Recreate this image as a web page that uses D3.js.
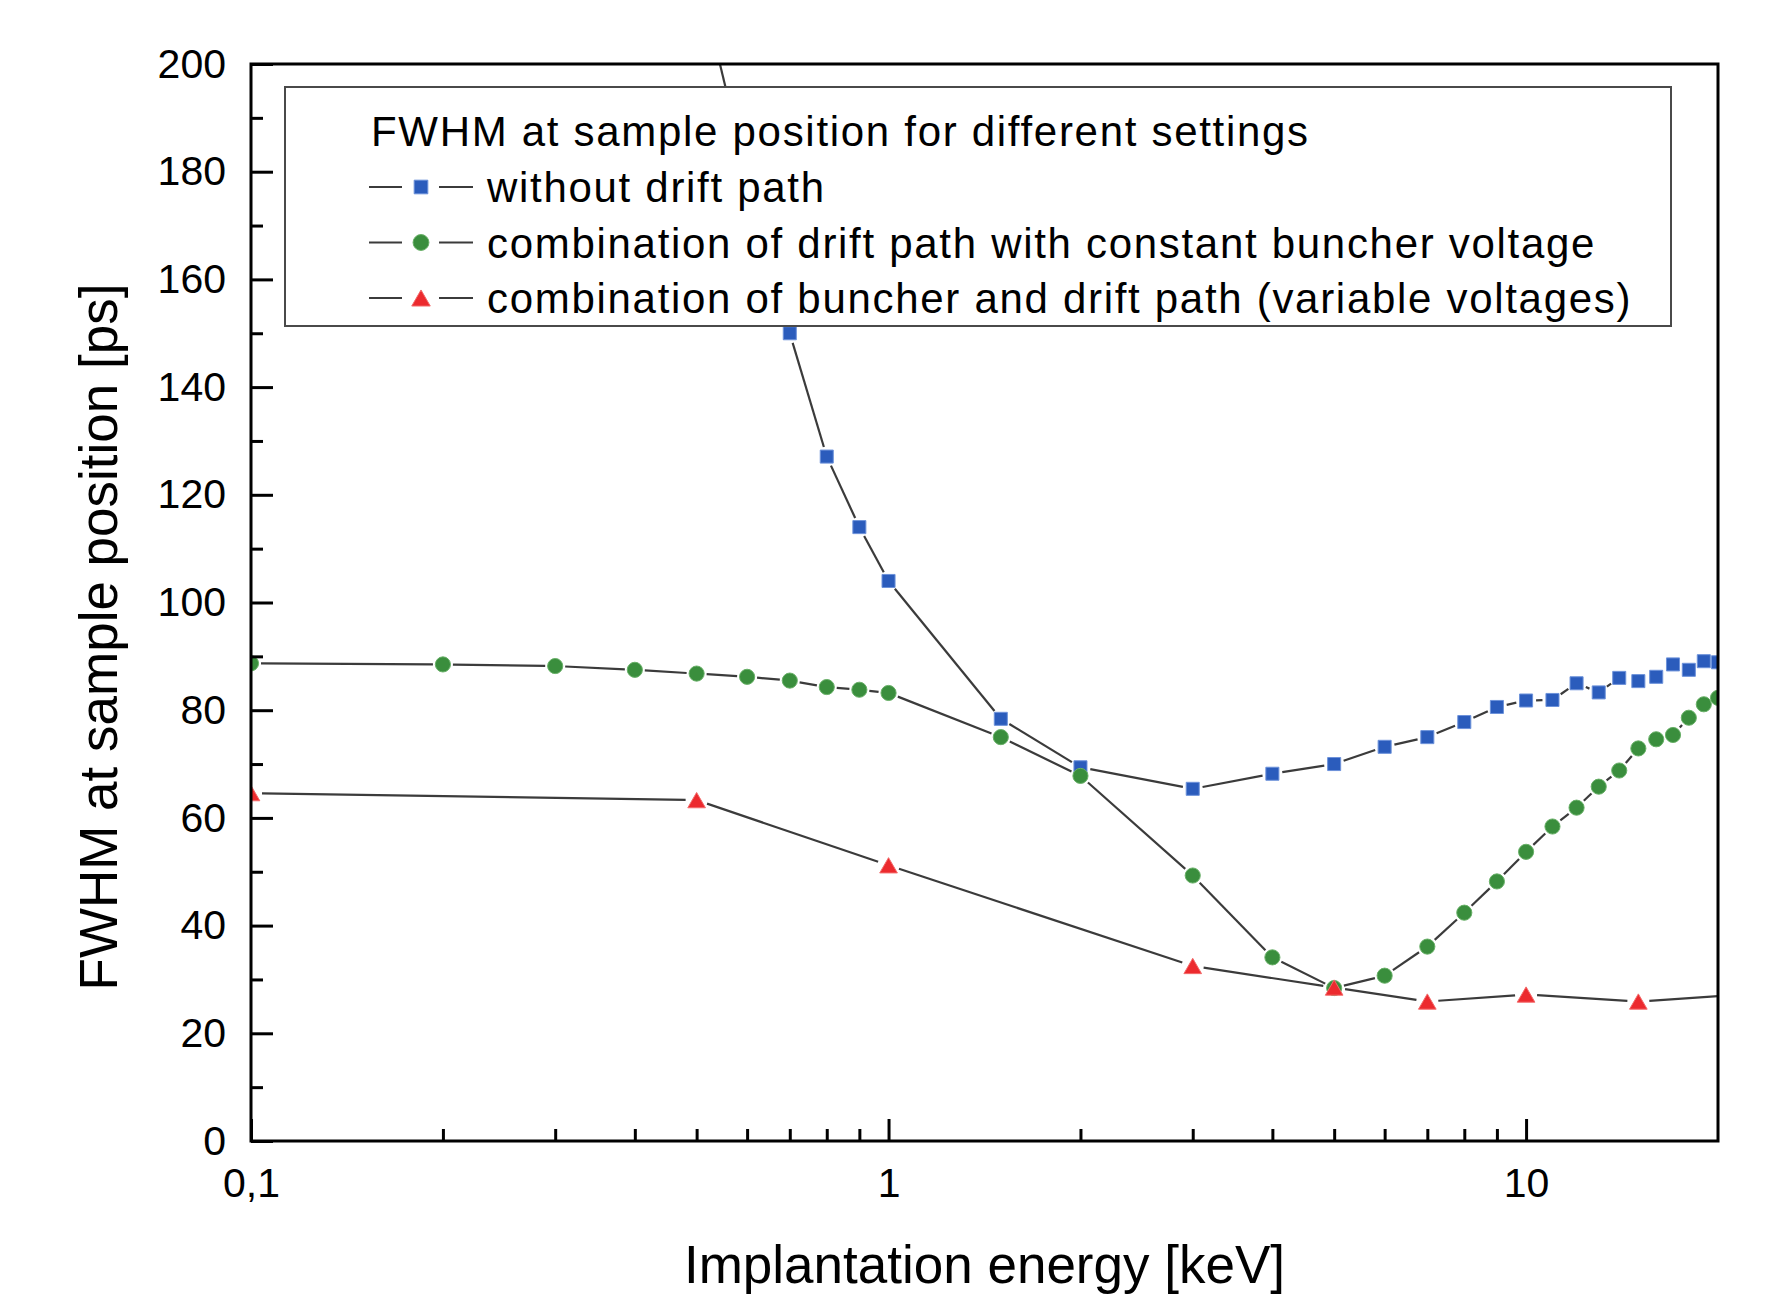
<!DOCTYPE html>
<html>
<head>
<meta charset="utf-8">
<script src="https://cdn.jsdelivr.net/npm/d3@7"></script>
<style>
  body { margin: 0; background: #fff; }
  svg { display: block; font-family: "Liberation Sans", Arial, Helvetica, sans-serif; }
</style>
</head>
<body>
<svg id="chart" width="1769" height="1297"></svg>
<script>
// implantation energy [keV] and FWHM [ps]
const energyNoDrift = [0.5, 0.6, 0.7, 0.8, 0.9, 1, 1.5, 2, 3, 4, 5, 6, 7, 8, 9, 10, 11, 12, 13, 14, 15, 16, 17, 18, 19, 20];
const fwhmNoDrift = [218, 179, 150.0, 127.1, 114.0, 104.0, 78.4, 69.4, 65.4, 68.2, 70.0, 73.2, 75.0, 77.8, 80.6, 81.8, 81.9, 85.0, 83.3, 86.0, 85.4, 86.2, 88.5, 87.5, 89.1, 88.9];

const energyConst = [0.1, 0.2, 0.3, 0.4, 0.5, 0.6, 0.7, 0.8, 0.9, 1, 1.5, 2, 3, 4, 5, 6, 7, 8, 9, 10, 11, 12, 13, 14, 15, 16, 17, 18, 19, 20];
const fwhmConst = [88.7, 88.5, 88.2, 87.5, 86.8, 86.2, 85.5, 84.3, 83.8, 83.2, 75.0, 67.8, 49.3, 34.1, 28.4, 30.7, 36.1, 42.4, 48.2, 53.7, 58.4, 61.9, 65.8, 68.8, 72.9, 74.6, 75.4, 78.6, 81.1, 82.3];

const energyVariable = [0.1, 0.5, 1, 3, 5, 7, 10, 15, 30];
const fwhmVariable = [64.6, 63.3, 51.2, 32.5, 28.5, 25.9, 27.2, 25.9, 28.3];

const seriesNames = [
  "without drift path",
  "combination of drift path with constant buncher voltage",
  "combination of buncher and drift path (variable voltages)"
];
const legendTitle = "FWHM at sample position for different settings";

const xMajorTicks = [0.1, 1, 10];
const xTickLabels = ["0,1", "1", "10"];
const xMinorTicks = [0.2, 0.3, 0.4, 0.5, 0.6, 0.7, 0.8, 0.9, 2, 3, 4, 5, 6, 7, 8, 9];
const yMajorTicks = [0, 20, 40, 60, 80, 100, 120, 140, 160, 180, 200];
const yMinorTicks = [10, 30, 50, 70, 90, 110, 130, 150, 170, 190];

const xTitle = "Implantation energy [keV]";
const yTitle = "FWHM at sample position [ps]";

// ---- layout ----
const plot = { left: 251, right: 1718, top: 64, bottom: 1141 };

const svg = d3.select("#chart");

const x = d3.scaleLog().domain([0.1, 20]).range([plot.left, plot.right]);
const y = d3.scaleLinear().domain([0, 200]).range([plot.bottom, plot.top]);

// triangle whose bounding box is centred on the point
const triangleUp = {
  draw(ctx, size) {
    const w = Math.sqrt(size * 4 / Math.sqrt(3));
    const h = w * Math.sqrt(3) / 2;
    ctx.moveTo(0, -h / 2);
    ctx.lineTo(w / 2, h / 2);
    ctx.lineTo(-w / 2, h / 2);
    ctx.closePath();
  }
};

const series = [
  { name: seriesNames[0], xs: energyNoDrift, ys: fwhmNoDrift, type: d3.symbolSquare, size: 170, fill: "#2b5cbc", stroke: "#6d92da", gap: 10 },
  { name: seriesNames[1], xs: energyConst, ys: fwhmConst, type: d3.symbolCircle, size: 180, fill: "#3a8e3d", stroke: "#68b067", gap: 10 },
  { name: seriesNames[2], xs: energyVariable, ys: fwhmVariable, type: triangleUp, size: 135, fill: "#ec2a2e", stroke: "#f36a6a", gap: 11 }
];

svg.append("defs").append("clipPath")
  .attr("id", "plot-clip")
  .append("rect")
  .attr("x", plot.left)
  .attr("y", plot.top)
  .attr("width", plot.right - plot.left)
  .attr("height", plot.bottom - plot.top);

const plotArea = svg.append("g").attr("clip-path", "url(#plot-clip)");

// connecting lines, stopped short of each symbol like Origin does
const lineLayer = plotArea.append("g");
series.forEach(s => {
  const pts = s.xs.map((e, i) => [x(e), y(s.ys[i])]);
  const segs = [];
  for (let i = 0; i < pts.length - 1; i++) {
    const [x0, y0] = pts[i], [x1, y1] = pts[i + 1];
    const d = Math.hypot(x1 - x0, y1 - y0);
    if (d <= 2 * s.gap + 1) continue;
    const ux = (x1 - x0) / d, uy = (y1 - y0) / d;
    segs.push([x0 + ux * s.gap, y0 + uy * s.gap, x1 - ux * s.gap, y1 - uy * s.gap]);
  }
  lineLayer.selectAll(null)
    .data(segs)
    .enter().append("line")
    .attr("x1", d => d[0]).attr("y1", d => d[1])
    .attr("x2", d => d[2]).attr("y2", d => d[3])
    .attr("stroke", "#3b3b3b")
    .attr("stroke-width", 2.2);
});

// symbols
series.forEach(s => {
  const sym = d3.symbol().type(s.type).size(s.size);
  plotArea.append("g").selectAll("path")
    .data(s.xs.map((e, i) => ({ e: e, v: s.ys[i] })))
    .enter().append("path")
    .attr("transform", d => `translate(${x(d.e)},${y(d.v)})`)
    .attr("d", sym)
    .attr("fill", s.fill)
    .attr("stroke", s.stroke)
    .attr("stroke-width", 1);
});

// ---- axes ----
const tickStyle = g => {
  g.select(".domain").remove();
  g.selectAll(".tick line").attr("stroke", "#000").attr("stroke-width", 3);
  g.selectAll(".tick text").attr("fill", "#000").style("font-size", "41px");
};

svg.append("g")
  .attr("transform", `translate(${plot.left},0)`)
  .call(d3.axisLeft(y).tickValues(yMajorTicks).tickSizeInner(-22).tickSizeOuter(0).tickPadding(25))
  .call(tickStyle);

svg.append("g")
  .attr("transform", `translate(${plot.left},0)`)
  .call(d3.axisLeft(y).tickValues(yMinorTicks).tickSizeInner(-12).tickSizeOuter(0).tickFormat(""))
  .call(tickStyle);

svg.append("g")
  .attr("transform", `translate(0,${plot.bottom})`)
  .call(d3.axisBottom(x).tickValues(xMajorTicks).tickSizeInner(-22).tickSizeOuter(0).tickPadding(27)
    .tickFormat((d, i) => xTickLabels[i]))
  .call(tickStyle);

svg.append("g")
  .attr("transform", `translate(0,${plot.bottom})`)
  .call(d3.axisBottom(x).tickValues(xMinorTicks).tickSizeInner(-12).tickSizeOuter(0).tickFormat(""))
  .call(tickStyle);

// frame
svg.append("rect")
  .attr("x", plot.left)
  .attr("y", plot.top)
  .attr("width", plot.right - plot.left)
  .attr("height", plot.bottom - plot.top)
  .attr("fill", "none")
  .attr("stroke", "#000")
  .attr("stroke-width", 3);

// axis titles
svg.append("text")
  .attr("x", (plot.left + plot.right) / 2)
  .attr("y", 1283)
  .attr("text-anchor", "middle")
  .style("font-size", "53px")
  .text(xTitle);

svg.append("text")
  .attr("transform", "translate(117,637) rotate(-90)")
  .attr("text-anchor", "middle")
  .style("font-size", "53px")
  .text(yTitle);

// ---- legend ----
const legend = svg.append("g");
legend.append("rect")
  .attr("x", 285)
  .attr("y", 87)
  .attr("width", 1671 - 285)
  .attr("height", 326 - 87)
  .attr("fill", "#fff")
  .attr("stroke", "#4a4a4a")
  .attr("stroke-width", 2);

legend.append("text")
  .attr("x", 371)
  .attr("y", 146)
  .style("font-size", "42px")
  .style("letter-spacing", "1.7px")
  .text(legendTitle);

const rows = legend.selectAll(".row")
  .data(series)
  .enter().append("g")
  .attr("class", "row")
  .attr("transform", (d, i) => `translate(0,${202 + i * 55.5})`);

rows.append("line")
  .attr("x1", 369).attr("x2", 402)
  .attr("y1", -15).attr("y2", -15)
  .attr("stroke", "#3b3b3b").attr("stroke-width", 2);
rows.append("line")
  .attr("x1", 439).attr("x2", 473)
  .attr("y1", -15).attr("y2", -15)
  .attr("stroke", "#3b3b3b").attr("stroke-width", 2);
rows.append("path")
  .attr("transform", "translate(421,-15)")
  .attr("d", d => d3.symbol().type(d.type).size(d.size * 1.1)())
  .attr("fill", d => d.fill)
  .attr("stroke", d => d.stroke)
  .attr("stroke-width", 1);
rows.append("text")
  .attr("x", 487)
  .attr("y", 0)
  .style("font-size", "42px")
  .style("letter-spacing", "1.7px")
  .text(d => d.name);
</script>
</body>
</html>
